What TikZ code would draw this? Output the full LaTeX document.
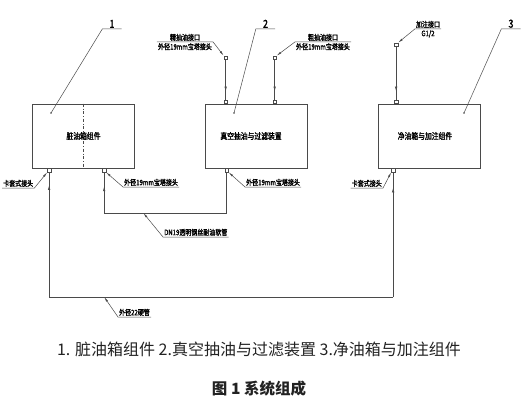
\documentclass[tikz,border=0pt]{standalone}
\usepackage{fontspec}
\usetikzlibrary{arrows.meta,positioning,calc,decorations.markings}
\newfontfamily\cjk{Noto Sans CJK SC}
\newfontfamily\cadfont[FakeStretch=0.8,FakeBold=1.8]{Noto Sans CJK SC}
\definecolor{Ink}{HTML}{4A4A4A}
\definecolor{CapText}{HTML}{222222}
\tikzset{
 unit/.style={draw=Ink, line width=0.7pt, minimum width=102pt, minimum height=64pt, inner sep=0pt, font=\cadfont\fontsize{8.5}{9}\selectfont},
 port/.style={draw=Ink, line width=0.5pt, minimum size=3.5pt, inner sep=0pt},
 tag/.style={inner sep=1pt, font=\cadfont\fontsize{7.5}{8}\selectfont},
 num/.style={inner sep=1pt, minimum width=19pt, font=\cadfont\fontsize{11}{12}\selectfont},
 pipe/.style={draw=Ink, line width=0.6pt},
 leader/.style={draw=Ink, line width=0.5pt},
 pointer/.style={leader, -{Latex[length=5pt,width=2pt]}},
 flowmark/.style={postaction={decorate}, decoration={markings, mark=at position #1 with {\arrow{Latex[length=5pt,width=2.4pt]}}}}
}

\begin{document}
\begin{tikzpicture}[x=1pt,y=-1pt]
\useasboundingbox (0,0) rectangle (527,409);
% units
\node[unit] (dirty) at (83.5,136) {脏油箱组件};
\node[unit] (vac) at (256,136) {\hspace*{-10pt}真空抽油与过滤装置};
\node[unit] (clean) at (429,136) {\hspace*{-8pt}净油箱与加注组件};
\draw[leader, dash dot] (dirty.north) -- (dirty.south);
% ports
\node[port, anchor=north] (d1) at ($(dirty.south west)+(17,0)$) {};
\node[port, anchor=north] (d2) at ($(dirty.south west)+(72,0)$) {};
\node[port, anchor=north] (v1) at ($(vac.south west)+(22,0)$) {};
\node[port, anchor=south] (vtl) at ($(vac.north west)+(21,0)$) {};
\node[port, anchor=south] (vtr) at ($(vac.north west)+(70,0)$) {};
\node[port, anchor=north] (d3) at ($(clean.south west)+(15.5,0)$) {};
\node[port, anchor=south] (ctop) at ($(clean.north west)+(18.5,0)$) {};
\node[port, above=40pt of vtl] (fineEnd) {};
\node[port, above=40pt of vtr] (coarseEnd) {};
\node[port, above=53pt of ctop] (fillEnd) {};
% suction and filling lines
\draw[pipe, flowmark=0.8] (fineEnd) -- (vtl);
\draw[pipe, flowmark=0.8] (coarseEnd) -- (vtr);
\draw[pipe, flowmark=0.85] (fillEnd) -- (ctop);
% hose and hard pipe
\coordinate (hl) at (d2 |- 0,213);
\coordinate (hr) at (v1 |- 0,213);
\draw[pipe, flowmark=0.66] (hl) -- (d2);
\draw[pipe] (hl) -- (hr) -- (v1);
\coordinate (c22l) at (d1 |- 0,297);
\coordinate (c22r) at (d3 |- 0,297);
\draw[pipe, flowmark=0.9] (c22l) -- (d1);
\draw[pipe] (c22l) -- (c22r);
\draw[pipe, flowmark=0.88] (c22r) -- (d3);
% part numbers
\coordinate (dot1) at (51,113);
\coordinate (dot2) at (234,113);
\coordinate (dot3) at (464,113);
\fill[Ink] (dot1) circle (0.9pt) (dot2) circle (0.9pt) (dot3) circle (0.9pt);
\node[num, anchor=south] (n1) at (112,29) {1};
\node[num, anchor=south] (n2) at (265.5,29) {2};
\node[num, anchor=south] (n3) at (511,29) {3};
\draw[leader] (dot1) -- (n1.south west) -- (n1.south east);
\draw[leader] (dot2) -- (n2.south west) -- (n2.south east);
\draw[leader] (dot3) -- (n3.south west) -- (n3.south east);
% top tags
\node[tag, anchor=north] (fineB) at (185,42) {外径19mm宝塔接头};
\node[tag, anchor=south] (fineA) at (185,42) {精抽油接口};
\draw[pointer] (fineB.north west) -- (fineB.north east) -- (fineEnd.north west);
\node[tag, anchor=north] (coarseB) at (323,42) {外径19mm宝塔接头};
\node[tag, anchor=south] (coarseA) at (323,42) {粗抽油接口};
\draw[pointer] (coarseB.north east) -- (coarseB.north west) -- (coarseEnd.north east);
\node[tag, anchor=south] (fillA) at (428,29) {加注接口};
\node[tag, anchor=north] (fillB) at (428,29) {G1/2};
\draw[pointer] (fillA.south east) -- (fillA.south west) -- (fillEnd.north east);
% bottom tags
\node[tag, anchor=south west] (ka1) at (2,188) {卡套式接头};
\draw[pointer] (ka1.south west) -- (ka1.south east) -- (d1.south west);
\node[tag, anchor=south west] (od1) at (123,187) {外径19mm宝塔接头};
\draw[pointer] (od1.south east) -- (od1.south west) -- (d2.south east);
\node[tag, anchor=south west] (od2) at (245,187) {外径19mm宝塔接头};
\draw[pointer] (od2.south east) -- (od2.south west) -- (v1.south east);
\node[tag, anchor=south east] (ka2) at (383,188) {卡套式接头};
\draw[pointer] (ka2.south west) -- (ka2.south east) -- (d3.south west);
\node[tag, anchor=south west] (hoseTag) at (163,237) {DN19透明钢丝耐油软管};
\draw[pointer] (hoseTag.south east) -- (hoseTag.south west) -- ($(hl)!0.32!(hr)$);
\node[tag, anchor=south west] (hardTag) at (118,317) {外径22硬管};
\draw[pointer] (hardTag.south east) -- (hardTag.south west) -- ($(c22l)!0.16!(c22r)$);
% caption
\node[text=CapText, font=\cjk\fontsize{16}{18}\selectfont] (cap) at (259,349) {1. 脏油箱组件 2.真空抽油与过滤装置 3.净油箱与加注组件};
\node[text=CapText, font=\cjk\bfseries\fontsize{15.5}{18}\selectfont] (fig) at (259,389) {图 1 系统组成};
\end{tikzpicture}
\end{document}
